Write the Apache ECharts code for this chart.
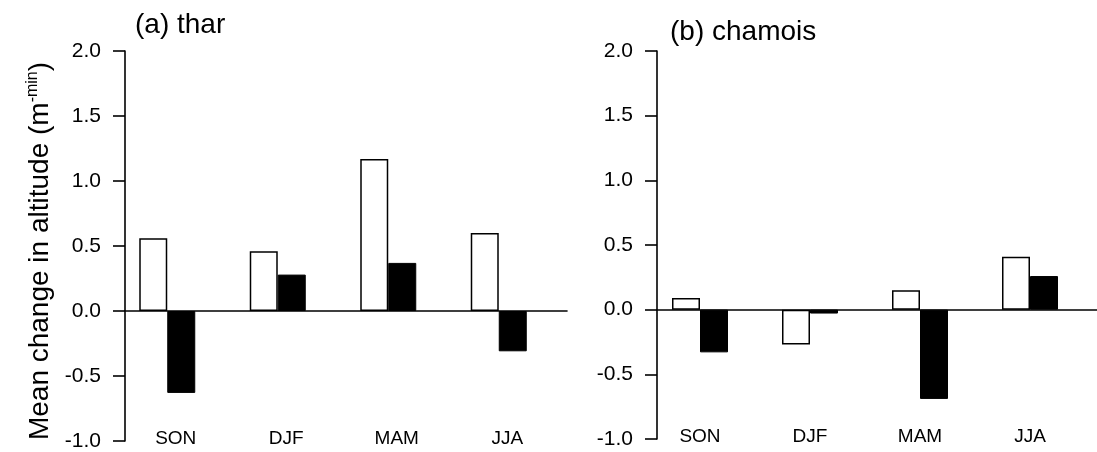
<!DOCTYPE html>
<html>
<head>
<meta charset="utf-8">
<script src="https://cdn.jsdelivr.net/npm/echarts@6/dist/echarts.min.js"></script>
<style>
html,body{margin:0;padding:0;background:#fff;}
#chart{width:1097px;height:452px;}
</style>
</head>
<body>
<div id="chart"></div>
<script>
// ---- data ----
const categories = ['SON', 'DJF', 'MAM', 'JJA'];
const tharOpen = [0.56, 0.46, 1.17, 0.60];
const tharFilled = [-0.63, 0.28, 0.37, -0.31];
const chamoisOpen = [0.09, -0.27, 0.15, 0.41];
const chamoisFilled = [-0.33, -0.03, -0.69, 0.26];
const panelTitles = ['(a) thar', '(b) chamois'];
const yMin = -1.0, yMax = 2.0, yStep = 0.5;
const yAxisTitle = 'Mean change in altitude (m{sup|-min})';

const FONT = '"Liberation Sans", Arial, Helvetica, sans-serif';
const chart = echarts.init(document.getElementById('chart'), null, {renderer: 'canvas'});

function yAxisFor(gridIndex, withName) {
  const ax = {
    type: 'value', gridIndex: gridIndex, min: yMin, max: yMax, interval: yStep,
    axisLine: {show: true, lineStyle: {color: '#000', width: 1.6}},
    axisTick: {show: true, inside: false, length: 12, lineStyle: {color: '#000', width: 1.6}},
    splitLine: {show: false},
    axisLabel: {
      color: '#000', fontSize: 21, fontFamily: FONT, margin: 24,
      formatter: v => v.toFixed(1)
    }
  };
  if (withName) {
    ax.name = yAxisTitle;
    ax.nameLocation = 'middle';
    ax.nameGap = 70;
    ax.nameTextStyle = {
      color: '#000', fontSize: 28, fontFamily: FONT, padding: [0, 10, 0, 0],
      rich: {sup: {fontSize: 16, fontFamily: FONT, color: '#000', verticalAlign: 'top', padding: [0, 0, 14, 0]}}
    };
  }
  return ax;
}

function xAxesFor(gridIndex, labelShift) {
  return [
    { // zero line
      type: 'category', gridIndex: gridIndex, data: categories,
      axisLine: {show: true, onZero: true, lineStyle: {color: '#000', width: 1.6}},
      axisTick: {show: false}, axisLabel: {show: false}, splitLine: {show: false}
    },
    { // labels at bottom
      type: 'category', gridIndex: gridIndex, data: categories, position: 'bottom',
      axisLine: {show: false, onZero: false}, axisTick: {show: false}, splitLine: {show: false},
      axisLabel: {color: '#000', fontSize: 19, fontFamily: FONT, margin: -12,
                  padding: [0, labelShift, 0, 0]}
    }
  ];
}

function barSeries(xIdx, yIdx, values, filled) {
  return {
    type: 'bar', xAxisIndex: xIdx, yAxisIndex: yIdx, data: values,
    barWidth: 28, barGap: '0%',
    itemStyle: filled ? {color: '#000', borderColor: '#000', borderWidth: 1}
                      : {color: '#fff', borderColor: '#000', borderWidth: 1.5},
    silent: true
  };
}
function spacerSeries(xIdx, yIdx, width) {
  // empty series that only reserves room at the right of each bar pair
  return {type: 'bar', xAxisIndex: xIdx, yAxisIndex: yIdx, data: categories.map(() => null),
          barWidth: width, barGap: '0%', silent: true, itemStyle: {color: 'transparent'}};
}

const option = {
  animation: false,
  backgroundColor: '#fff',
  title: [
    {text: panelTitles[0], left: 130, top: 6,
     textStyle: {color: '#000', fontSize: 28, fontWeight: 'normal', fontFamily: FONT}},
    {text: panelTitles[1], left: 665, top: 13,
     textStyle: {color: '#000', fontSize: 28, fontWeight: 'normal', fontFamily: FONT}}
  ],
  grid: [
    {left: 125, top: 51, width: 442, height: 390},
    {left: 657, top: 51, width: 440, height: 388}
  ],
  xAxis: [].concat(xAxesFor(0, 9), xAxesFor(1, 24)),
  yAxis: [yAxisFor(0, true), yAxisFor(1, false)],
  series: [
    barSeries(0, 0, tharOpen, false),
    barSeries(0, 0, tharFilled, true),
    spacerSeries(0, 0, 26),
    barSeries(2, 1, chamoisOpen, false),
    barSeries(2, 1, chamoisFilled, true),
    spacerSeries(2, 1, 24)
  ]
};
chart.setOption(option);
</script>
</body>
</html>
